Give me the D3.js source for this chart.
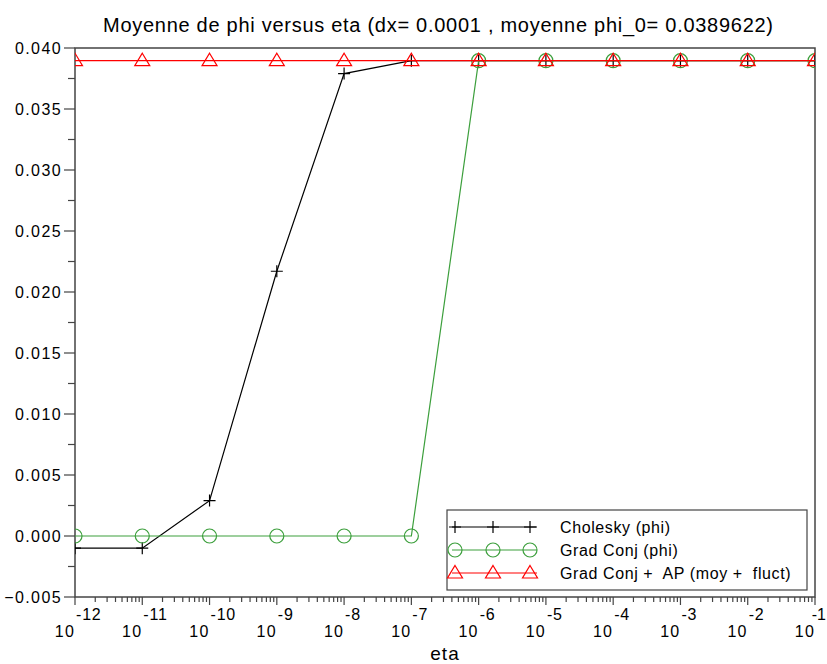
<!DOCTYPE html>
<html>
<head>
<meta charset="utf-8">
<script src="https://cdn.jsdelivr.net/npm/d3@7"></script>
<style>
  html, body { margin: 0; padding: 0; background: #fff; }
  svg { display: block; }
  text { font-family: "Liberation Sans", Arial, sans-serif; fill: #000; white-space: pre; }
</style>
</head>
<body>
<svg id="chart" width="827" height="664"></svg>
<script>
// Exponents of eta (x values are 10^exp)
const exponents = [-12, -11, -10, -9, -8, -7, -6, -5, -4, -3, -2, -1];

// Mean of phi for each solver
const cholesky = [-0.0010, -0.0010, 0.0029, 0.0217, 0.0379, 0.03896, 0.03896, 0.03896, 0.03896, 0.03896, 0.03896, 0.03896];
const gradConj = [0, 0, 0, 0, 0, 0, 0.03896, 0.03896, 0.03896, 0.03896, 0.03896, 0.03896];
const gradConjAP = [0.03896, 0.03896, 0.03896, 0.03896, 0.03896, 0.03896, 0.03896, 0.03896, 0.03896, 0.03896, 0.03896, 0.03896];

const yTicks = [-0.005, 0, 0.005, 0.010, 0.015, 0.020, 0.025, 0.030, 0.035, 0.040];
const titleText = "Moyenne de phi versus eta (dx= 0.0001 , moyenne phi_0= 0.0389622)";
const xLabel = "eta";

const series = [
  { name: "Cholesky (phi)", values: cholesky, color: "#000000", marker: "plus" },
  { name: "Grad Conj (phi)", values: gradConj, color: "#3c9f3c", marker: "circle" },
  { name: "Grad Conj +  AP (moy +  fluct)", values: gradConjAP, color: "#ff0000", marker: "triangle" }
];

const svg = d3.select("#chart");
const m = { left: 75, right: 815, top: 48, bottom: 597 };

const x = d3.scaleLog().domain([1e-12, 1e-1]).range([m.left, m.right]);
const y = d3.scaleLinear().domain([-0.005, 0.040]).range([m.bottom, m.top]);

// Title
svg.append("text")
  .attr("x", 438).attr("y", 32)
  .attr("text-anchor", "middle")
  .attr("textLength", 670)
  .attr("lengthAdjust", "spacing")
  .style("font-size", "20px")
  .text(titleText);

// Clip region for plotted marks
svg.append("clipPath").attr("id", "plotclip")
  .append("rect")
  .attr("x", m.left).attr("y", m.top)
  .attr("width", m.right - m.left).attr("height", m.bottom - m.top);

const axisColor = "#444";

// Plot frame
svg.append("rect")
  .attr("x", m.left).attr("y", m.top)
  .attr("width", m.right - m.left).attr("height", m.bottom - m.top)
  .attr("fill", "none").attr("stroke", axisColor).attr("stroke-width", 1.5);

// Y axis: major ticks with labels, minor ticks in between
const yAxis = svg.append("g");
yTicks.forEach(v => {
  yAxis.append("line")
    .attr("x1", m.left - 11).attr("x2", m.left)
    .attr("y1", y(v)).attr("y2", y(v))
    .attr("stroke", axisColor).attr("stroke-width", 1.2);
  yAxis.append("text")
    .attr("x", m.left - 13).attr("y", y(v) + 6)
    .attr("text-anchor", "end")
    .style("font-size", "16px")
    .style("letter-spacing", "1.4px")
    .text(d3.format(".3f")(v));
});
d3.range(yTicks.length - 1).forEach(i => {
  const v = (yTicks[i] + yTicks[i + 1]) / 2;
  yAxis.append("line")
    .attr("x1", m.left - 7).attr("x2", m.left)
    .attr("y1", y(v)).attr("y2", y(v))
    .attr("stroke", axisColor).attr("stroke-width", 1.2);
});

// X axis: decade ticks, log minor ticks, labels as 10^exp
const xAxis = svg.append("g");
exponents.forEach((e, i) => {
  const px = x(Math.pow(10, e));
  const last = i === exponents.length - 1;
  xAxis.append("line")
    .attr("x1", px).attr("x2", px)
    .attr("y1", m.bottom).attr("y2", m.bottom + 8)
    .attr("stroke", axisColor).attr("stroke-width", 1.2);
  xAxis.append("text")
    .attr("x", px).attr("y", 637)
    .attr("text-anchor", "end")
    .style("font-size", "16px")
    .style("letter-spacing", "1.2px")
    .text("10");
  xAxis.append("text")
    .attr("x", last ? 826 : px + 1).attr("y", 620)
    .attr("text-anchor", last ? "end" : "start")
    .style("font-size", "16px")
    .style("letter-spacing", last ? "0px" : "0.8px")
    .text(String(e));
  if (!last) {
    for (let k = 2; k <= 9; k++) {
      const mx = x(k * Math.pow(10, e));
      xAxis.append("line")
        .attr("x1", mx).attr("x2", mx)
        .attr("y1", m.bottom).attr("y2", m.bottom + 5)
        .attr("stroke", axisColor).attr("stroke-width", 1.2);
    }
  }
});

svg.append("text")
  .attr("x", 445).attr("y", 660)
  .attr("text-anchor", "middle")
  .style("font-size", "19px")
  .style("letter-spacing", "1px")
  .text(xLabel);

// Marker drawing
function drawMarker(g, type, cx, cy, color) {
  if (type === "plus") {
    g.append("path")
      .attr("d", `M${cx - 6},${cy}H${cx + 6}M${cx},${cy - 6}V${cy + 6}`)
      .attr("stroke", color).attr("stroke-width", 1.2).attr("fill", "none");
  } else if (type === "circle") {
    g.append("circle")
      .attr("cx", cx).attr("cy", cy).attr("r", 7)
      .attr("stroke", color).attr("stroke-width", 1.2).attr("fill", "none");
  } else {
    g.append("path")
      .attr("d", `M${cx},${cy - 7.5}L${cx + 7.5},${cy + 5}L${cx - 7.5},${cy + 5}Z`)
      .attr("stroke", color).attr("stroke-width", 1.2).attr("fill", "none");
  }
}

// Series lines and markers
const plot = svg.append("g").attr("clip-path", "url(#plotclip)");
const line = d3.line()
  .x((d, i) => x(Math.pow(10, exponents[i])))
  .y(d => y(d));

series.forEach(s => {
  plot.append("path")
    .datum(s.values)
    .attr("d", line)
    .attr("fill", "none")
    .attr("stroke", s.color)
    .attr("stroke-width", 1.2);
  s.values.forEach((v, i) => {
    drawMarker(plot, s.marker, x(Math.pow(10, exponents[i])), y(v), s.color);
  });
});

// Legend
const lg = svg.append("g");
lg.append("rect")
  .attr("x", 447).attr("y", 510)
  .attr("width", 360).attr("height", 80)
  .attr("fill", "#fff").attr("stroke", axisColor).attr("stroke-width", 1.2);
series.forEach((s, i) => {
  const ly = 527 + i * 23;
  lg.append("line")
    .attr("x1", 452).attr("x2", 537)
    .attr("y1", ly).attr("y2", ly)
    .attr("stroke", s.color).attr("stroke-width", 1.2);
  [455, 493, 530].forEach(mx => drawMarker(lg, s.marker, mx, ly, s.color));
  lg.append("text")
    .attr("x", 560).attr("y", ly + 6)
    .style("font-size", "16px")
    .style("letter-spacing", "0.6px")
    .text(s.name);
});
</script>
</body>
</html>
